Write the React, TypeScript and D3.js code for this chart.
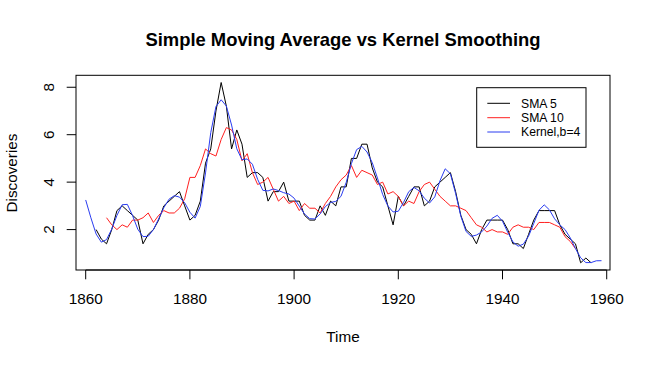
import React from "react";
import * as d3 from "d3";

const sma5Start = 1862;
const sma5 = [
  2.0, 1.6, 1.4, 2.0, 2.8, 3.0, 2.8, 2.6, 2.4, 1.4,
  1.8, 2.0, 2.4, 3.0, 3.2, 3.4, 3.6, 3.0, 2.4, 2.6,
  3.2, 4.8, 5.4, 7.0, 8.2, 7.2, 5.4, 6.2, 5.6, 4.2,
  4.4, 4.4, 4.2, 3.2, 3.6, 3.6, 4.0, 3.2, 3.2, 3.2,
  2.6, 2.4, 2.4, 3.0, 2.6, 3.2, 3.0, 3.8, 3.8, 5.0,
  5.0, 5.6, 5.6, 4.6, 4.0, 3.8, 3.0, 2.2, 3.4, 3.0,
  3.4, 3.8, 3.8, 3.0, 3.2, 3.8, 4.0, 4.2, 4.4, 3.6,
  2.6, 2.0, 1.8, 1.4, 2.0, 2.4, 2.4, 2.4, 2.4, 2.0,
  1.4, 1.4, 1.2, 1.8, 2.4, 2.8, 2.8, 2.8, 2.8, 2.2,
  1.8, 1.6, 1.4, 0.6, 0.8, 0.6,
];

const sma10Start = 1864;
const sma10 = [
  2.5, 2.2, 2.0, 2.2, 2.1, 2.4, 2.4, 2.5, 2.7, 2.3,
  2.6, 2.8, 2.7, 2.7, 2.9, 3.3, 4.2, 4.2, 4.7, 5.4,
  5.2, 5.1, 5.8, 6.3, 6.2, 5.8, 4.9, 5.2, 4.4, 3.9,
  4.0, 4.2, 3.7, 3.2, 3.4, 3.1, 3.2, 2.8, 3.1, 2.9,
  2.9, 2.7, 3.1, 3.4, 3.8, 4.1, 4.3, 4.7, 4.2, 4.5,
  4.4, 4.3, 3.9, 4.0, 3.5, 3.6, 3.4, 3.0, 3.2, 3.1,
  3.6, 3.9, 4.0, 3.7, 3.4, 3.2, 3.0, 3.0, 2.9, 2.8,
  2.5, 2.2, 2.1, 1.9, 2.0, 1.9, 1.9, 1.8, 2.1, 2.2,
  2.1, 2.1, 2.0, 2.3, 2.3, 2.3, 2.2, 2.1, 1.7, 1.5, 1.2,
];

const kernelStart = 1860;
const kernel = [
  3.248, 2.496, 1.812, 1.47, 1.577, 2.021, 2.597, 3.048, 3.062, 2.587,
  2.014, 1.703, 1.719, 1.998, 2.448, 2.924, 3.281, 3.43, 3.369, 3.13,
  2.73, 2.483, 2.978, 4.389, 6.086, 7.184, 7.472, 7.207, 6.408, 5.408,
  4.943, 4.978, 4.754, 4.118, 3.655, 3.63, 3.712, 3.646, 3.555, 3.5,
  3.325, 2.986, 2.658, 2.461, 2.447, 2.662, 2.97, 3.143, 3.189, 3.402,
  3.991, 4.78, 5.371, 5.508, 5.27, 4.82, 4.172, 3.479, 2.993, 2.743,
  2.772, 3.143, 3.597, 3.777, 3.634, 3.322, 3.121, 3.38, 4.06, 4.563,
  4.351, 3.521, 2.567, 1.92, 1.714, 1.769, 1.902, 2.148, 2.474, 2.602,
  2.352, 1.886, 1.479, 1.299, 1.386, 1.722, 2.26, 2.813, 3.044, 2.832,
  2.453, 2.199, 2.001, 1.654, 1.197, 0.81, 0.608, 0.609, 0.684, 0.688,
];

const xTicks = [1860, 1880, 1900, 1920, 1940, 1960];
const yTicks = [2, 4, 6, 8];
const legendLabels = ["SMA 5", "SMA 10", "Kernel,b=4"];
const seriesColors = ["#000000", "#ff2020", "#2a3cf0"];

const FONT = "'Liberation Sans', Arial, Helvetica, sans-serif";

export default function App() {
  const L = 76, R = 610, T = 75.3, B = 270;
  const x = d3.scaleLinear().domain([1858.14, 1960.63]).range([L, R]);
  const y = d3.scaleLinear().domain([0.296, 8.504]).range([B, T]);

  const toPts = (start: number, vals: number[]) =>
    vals.map((v, i) => [start + i, v] as [number, number]);
  const line = d3
    .line<[number, number]>()
    .x((d) => x(d[0]))
    .y((d) => y(d[1]));

  const series = [
    toPts(sma5Start, sma5),
    toPts(sma10Start, sma10),
    toPts(kernelStart, kernel),
  ];

  const tickLen = 9.3;
  const fs = 15.3;

  const lgX0 = 476.7, lgY0 = 87.7, lgW = 109.3, lgH = 59.6;
  const rowYs = [103.3, 117.7, 132];

  return (
    <svg width={650} height={365} style={{ position: "absolute", left: 0, top: 0, background: "#fff" }}>
      <rect x={0} y={0} width={650} height={365} fill="#fff" />
      <text x={(L + R) / 2} y={46} textAnchor="middle" fontFamily={FONT} fontWeight="bold" fontSize={18.4} fill="#000">
        Simple Moving Average vs Kernel Smoothing
      </text>

      {/* series */}
      {series.map((s, i) => (
        <path key={i} d={line(s) || ""} fill="none" stroke={seriesColors[i]} strokeWidth={1} strokeLinejoin="round" />
      ))}

      {/* box */}
      <rect x={L} y={T} width={R - L} height={B - T} fill="none" stroke="#000" strokeWidth={1} />

      {/* x axis */}
      <line x1={x(xTicks[0])} x2={x(xTicks[xTicks.length - 1])} y1={B} y2={B} stroke="#000" />
      {xTicks.map((t) => (
        <g key={t}>
          <line x1={x(t)} x2={x(t)} y1={B} y2={B + tickLen} stroke="#000" />
          <text x={x(t)} y={304} textAnchor="middle" fontFamily={FONT} fontSize={fs} fill="#000">
            {t}
          </text>
        </g>
      ))}

      {/* y axis */}
      {yTicks.map((t) => (
        <g key={t}>
          <line x1={L - tickLen} x2={L} y1={y(t)} y2={y(t)} stroke="#000" />
          <text transform={`translate(54, ${y(t)}) rotate(-90)`} textAnchor="middle" fontFamily={FONT} fontSize={fs} fill="#000">
            {t}
          </text>
        </g>
      ))}

      <text x={(L + R) / 2} y={341.5} textAnchor="middle" fontFamily={FONT} fontSize={fs} fill="#000">
        Time
      </text>
      <text transform={`translate(17, 173) rotate(-90)`} textAnchor="middle" fontFamily={FONT} fontSize={fs} fill="#000">
        Discoveries
      </text>

      {/* legend */}
      <rect x={lgX0} y={lgY0} width={lgW} height={lgH} fill="#fff" stroke="#000" strokeWidth={1} />
      {legendLabels.map((lab, i) => (
        <g key={lab}>
          <line x1={487.3} x2={510} y1={rowYs[i]} y2={rowYs[i]} stroke={seriesColors[i]} strokeWidth={1} />
          <text x={521} y={rowYs[i] + 4.4} fontFamily={FONT} fontSize={12.2} fill="#000">
            {lab}
          </text>
        </g>
      ))}
    </svg>
  );
}
